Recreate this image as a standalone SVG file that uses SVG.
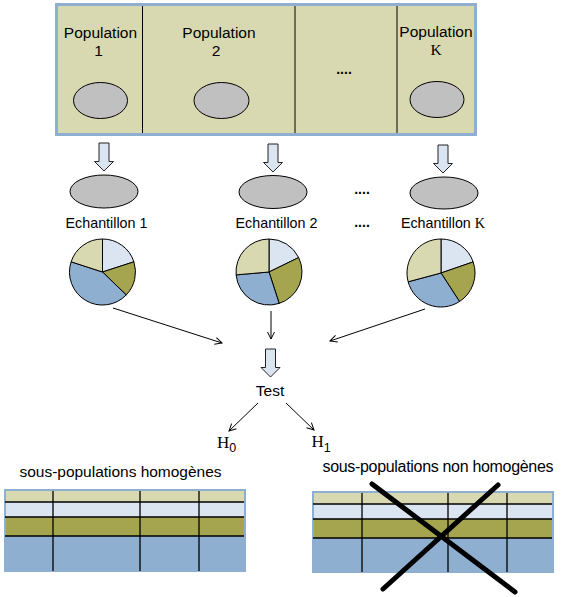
<svg xmlns="http://www.w3.org/2000/svg" xmlns:xlink="http://www.w3.org/1999/xlink" width="562" height="597" viewBox="0 0 562 597">
<style>
.t{font-family:"Liberation Sans",Arial,sans-serif;fill:#000}
.s{font-family:"Liberation Serif","Times New Roman",serif}
.pop{font-size:15.5px;text-anchor:middle}
.ech{font-size:14.3px;text-anchor:middle}
.ell{fill:#C0C0C0;stroke:#000;stroke-width:1}
.barr{fill:#DBE5F1;stroke:#222;stroke-width:1}
.conn{stroke:#000;stroke-width:1;fill:none;marker-end:url(#ah)}
.lb{fill:#DBE5F1}.ol{fill:#A5A54F}.bl{fill:#8EAFCF}.bg{fill:#D9D9B1}
.pie path{stroke:#000;stroke-width:1}
.grid{stroke:#000;stroke-width:1.3;fill:none}
</style>
<defs>
<marker id="ah" markerUnits="userSpaceOnUse" markerWidth="10" markerHeight="10" refX="7" refY="3.5" orient="auto" overflow="visible">
<path d="M0,0 L7,3.5 L0,7" fill="none" stroke="#000" stroke-width="1"/>
</marker>
<path id="barrow" class="barr" d="M-5,0 H5 V18.5 H9.5 L0,28 L-9.5,18.5 H-5 Z"/>
</defs>

<g id="populations">
<rect x="56.5" y="4.5" width="419" height="130" fill="#D9D9B1" stroke="#8EAFCF" stroke-width="3"/>
<line x1="142.5" y1="6" x2="142.5" y2="133" stroke="#000"/>
<line x1="295" y1="6" x2="295" y2="133" stroke="#000"/>
<line x1="397" y1="6" x2="397" y2="133" stroke="#000"/>
</g>
<g id="pop1">
<text class="t pop" x="100.5" y="38">Population</text>
<text class="t pop" x="98.5" y="56">1</text>
<ellipse class="ell" cx="100.5" cy="100.5" rx="27" ry="18"/>
</g>
<g id="pop2">
<text class="t pop" x="219" y="38">Population</text>
<text class="t pop" x="216" y="56">2</text>
<ellipse class="ell" cx="221.5" cy="100.5" rx="27.5" ry="18"/>
</g>
<g id="popdots">
<text class="t" x="344" y="73.5" font-size="14" font-weight="bold" text-anchor="middle">....</text>
</g>
<g id="popK">
<text class="t pop" x="436" y="37">Population</text>
<text class="s pop" x="436" y="55">K</text>
<ellipse class="ell" cx="437" cy="99.5" rx="27" ry="18"/>
</g>

<g id="block-arrows">
<use xlink:href="#barrow" x="104" y="143"/>
<use xlink:href="#barrow" x="273" y="144"/>
<use xlink:href="#barrow" x="443" y="145"/>
<use xlink:href="#barrow" x="270.5" y="349"/>
</g>

<g id="ech1">
<ellipse class="ell" cx="104" cy="191.5" rx="34" ry="16.5"/>
<text class="t ech" x="106.5" y="228">Echantillon 1</text>
<g class="pie">
<path class="lb" d="M102.5,272 L102.5,239 A33,33 0 0,1 133.89,261.8 Z"/>
<path class="ol" d="M102.5,272 L133.89,261.8 A33,33 0 0,1 126.24,294.93 Z"/>
<path class="bl" d="M102.5,272 L126.24,294.93 A33,33 0 0,1 71.11,261.8 Z"/>
<path class="bg" d="M102.5,272 L71.11,261.8 A33,33 0 0,1 102.5,239 Z"/>
</g>
</g>
<g id="ech2">
<ellipse class="ell" cx="273" cy="192" rx="34" ry="16.5"/>
<text class="t ech" x="276.5" y="228">Echantillon 2</text>
<g class="pie">
<path class="lb" d="M269,272 L269,239 A33,33 0 0,1 298.66,257.53 Z"/>
<path class="ol" d="M269,272 L298.66,257.53 A33,33 0 0,1 279.2,303.39 Z"/>
<path class="bl" d="M269,272 L279.2,303.39 A33,33 0 0,1 236.13,274.88 Z"/>
<path class="bg" d="M269,272 L236.13,274.88 A33,33 0 0,1 269,239 Z"/>
</g>
</g>
<g id="echdots">
<text class="t" x="362" y="194" font-size="14" font-weight="bold" text-anchor="middle">....</text>
<text class="t" x="362" y="227" font-size="14" font-weight="bold" text-anchor="middle">....</text>
</g>
<g id="echK">
<ellipse class="ell" cx="444" cy="193" rx="34" ry="16"/>
<text class="t ech" x="443" y="228">Echantillon <tspan class="s">K</tspan></text>
<g class="pie">
<path class="lb" d="M441,273 L441,239 A34,34 0 0,1 473.15,261.93 Z"/>
<path class="ol" d="M441,273 L473.15,261.93 A34,34 0 0,1 459.52,301.52 Z"/>
<path class="bl" d="M441,273 L459.52,301.52 A34,34 0 0,1 408.16,281.8 Z"/>
<path class="bg" d="M441,273 L408.16,281.8 A34,34 0 0,1 441,239 Z"/>
</g>
</g>

<g id="connectors">
<line class="conn" x1="113" y1="308" x2="222" y2="343"/>
<line class="conn" x1="271" y1="311" x2="271" y2="339"/>
<line class="conn" x1="425" y1="309" x2="330" y2="341"/>
<line class="conn" x1="258" y1="403" x2="229" y2="431"/>
<line class="conn" x1="286" y1="403" x2="314" y2="430"/>
</g>

<g id="test">
<text class="t" x="270" y="395.5" font-size="15.5" text-anchor="middle">Test</text>
</g>
<g id="h0">
<text class="s" x="217" y="448" font-size="17">H<tspan class="t" font-size="12.5" dy="4">0</tspan></text>
</g>
<g id="h1">
<text class="s" x="311.5" y="446.5" font-size="17">H<tspan class="t" font-size="12.5" dy="5">1</tspan></text>
</g>

<g id="table-homogene">
<text class="t" x="19.5" y="476.5" font-size="15.5" textLength="202">sous-populations homogènes</text>
<rect x="4" y="489" width="242" height="83" class="bl"/>
<rect x="6" y="491" width="238" height="11" class="bg"/>
<rect x="6" y="502" width="238" height="15" class="lb"/>
<rect x="6" y="517" width="238" height="19" class="ol"/>
<path class="grid" d="M5,502H244M5,517H244M5,536H244M53,491V571M140,491V571M199,491V571"/>
</g>

<g id="table-non-homogene">
<text class="t" x="322.5" y="471.5" font-size="16" textLength="231">sous-populations non homogènes</text>
<rect x="312" y="491" width="242" height="82" class="bl"/>
<rect x="314" y="493" width="238" height="11" class="bg"/>
<rect x="314" y="504" width="238" height="15" class="lb"/>
<rect x="314" y="519" width="238" height="19" class="ol"/>
<path class="grid" d="M313,504H552M313,519H552M313,538H552M362,493V572M448,493V572M507,493V572"/>
<path d="M372,484L515,592M498,485L383,589" stroke="#000" stroke-width="5" stroke-linecap="round" fill="none"/>
</g>
</svg>
